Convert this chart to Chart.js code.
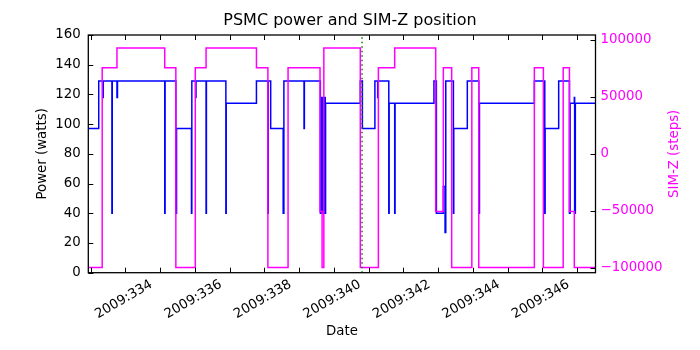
<!DOCTYPE html>
<html>
<head>
<meta charset="utf-8">
<script src="https://cdn.jsdelivr.net/npm/chart.js@4"></script>
<style>
  html, body { margin: 0; padding: 0; background: #fff; }
  #wrap { width: 700px; height: 350px; }
</style>
</head>
<body>
<div id="wrap"><canvas id="psmcChart" width="700" height="350"></canvas></div>
<script>
// 2009 day-of-year at each change; the value holds until the next change
const powerDays = [332.90, 333.23, 333.35, 333.36, 333.61, 333.62, 333.755, 333.77, 335.13, 335.14,
  335.45, 335.47, 335.90, 335.91, 336.02, 336.03, 336.32, 336.33, 336.89, 336.90,
  337.77, 338.10, 338.11, 338.18, 338.54, 338.56, 339.14, 339.15, 339.61, 339.64,
  339.67, 339.72, 339.75, 339.76, 340.76, 340.82, 341.18, 341.26, 341.27, 341.58,
  341.59, 341.75, 341.76, 342.88, 342.95, 343.15, 343.20, 343.22, 343.44, 343.45,
  343.84, 344.17, 344.19, 345.77, 346.07, 346.08, 346.47, 346.78, 346.80, 346.92,
  346.93, 346.95, 347.60];
const powerWatts = [97, 129, 118, 129, 40, 129, 118, 129, 40, 129,
  40, 97, 40, 129, 118, 129, 40, 129, 40, 114,
  129, 40, 129, 97, 40, 129, 97, 129, 40, 118,
  40, 118, 40, 114, 129, 97, 129, 118, 129, 40,
  114, 40, 114, 129, 40, 58, 27, 129, 40, 97,
  129, 40, 114, 129, 40, 97, 129, 40, 114, 118,
  40, 114, 114];

const simzDays = [332.90, 333.33, 333.755, 335.13, 335.45, 336.01, 336.32, 337.77, 338.10, 338.68,
  339.60, 339.66, 339.71, 340.76, 341.28, 341.75, 342.93, 343.15, 343.39, 343.97,
  344.17, 345.77, 346.03, 346.60, 346.78, 346.92, 347.60];
const simzSteps = [-99600, 75600, 92900, 75600, -99600, 75600, 92900, 75600, -99600, 75600,
  -50500, -99600, 92900, -99600, 75600, 92900, -50500, 75600, -99600, 75600,
  -99600, 75600, -99600, 75600, -50500, -99600, -99600];

const markerDay = 340.81;

const dayTicks = [333, 334, 335, 336, 337, 338, 339, 340, 341, 342, 343, 344, 345, 346, 347];
const powerTicks = [0, 20, 40, 60, 80, 100, 120, 140, 160];
const simzTicks = [-100000, -50000, 0, 50000, 100000];

const toPoints = (xs, ys) => xs.map((x, i) => ({ x: x, y: ys[i] }));
const setTicks = list => scale => { scale.ticks = list.map(v => ({ value: v })); };

Chart.defaults.font.family = 'DejaVu Sans';
Chart.defaults.font.size = 13.33;
Chart.defaults.color = '#000';

// matplotlib look: frame, inward ticks and the right-hand label reading upwards
const axesFrame = {
  id: 'axesFrame',
  afterDraw(chart) {
    const { ctx, chartArea: a, scales } = chart;
    ctx.save();
    ctx.strokeStyle = '#000';
    ctx.lineWidth = 1;
    ctx.beginPath();
    scales.x.ticks.forEach(t => {
      const px = Math.round(scales.x.getPixelForValue(t.value)) + 0.5;
      ctx.moveTo(px, a.bottom); ctx.lineTo(px, a.bottom - 5);
      ctx.moveTo(px, a.top); ctx.lineTo(px, a.top + 5);
    });
    scales.y.ticks.forEach(t => {
      const py = Math.round(scales.y.getPixelForValue(t.value)) + 0.5;
      ctx.moveTo(a.left, py); ctx.lineTo(a.left + 5, py);
    });
    scales.y2.ticks.forEach(t => {
      const py = Math.round(scales.y2.getPixelForValue(t.value)) + 0.5;
      ctx.moveTo(a.right, py); ctx.lineTo(a.right - 5, py);
    });
    ctx.stroke();
    ctx.lineWidth = 1.3;
    ctx.strokeRect(a.left, a.top, a.right - a.left, a.bottom - a.top);

    ctx.translate(675, (a.top + a.bottom) / 2);
    ctx.rotate(-Math.PI / 2);
    ctx.fillStyle = '#ff00ff';
    ctx.font = '13.33px "DejaVu Sans"';
    ctx.textAlign = 'center';
    ctx.textBaseline = 'middle';
    ctx.fillText('SIM-Z (steps)', 0, 0);
    ctx.restore();
  }
};

new Chart(document.getElementById('psmcChart'), {
  type: 'line',
  data: {
    datasets: [
      {
        label: 'marker',
        data: [{ x: markerDay, y: 0 }, { x: markerDay, y: 160 }],
        yAxisID: 'y',
        borderColor: '#008000',
        borderWidth: 1.5,
        borderDash: [1.5, 3],
        pointRadius: 0
      },
      {
        label: 'SIM-Z',
        data: toPoints(simzDays, simzSteps),
        yAxisID: 'y2',
        stepped: 'before',
        borderColor: '#ff00ff',
        borderWidth: 1.5,
        pointRadius: 0
      },
      {
        label: 'Power',
        data: toPoints(powerDays, powerWatts),
        yAxisID: 'y',
        stepped: 'before',
        borderColor: '#0000ff',
        borderWidth: 1.5,
        pointRadius: 0
      }
    ]
  },
  options: {
    responsive: false,
    animation: false,
    devicePixelRatio: 1,
    layout: { padding: 0 },
    plugins: {
      legend: { display: false },
      tooltip: { enabled: false },
      title: {
        display: true,
        text: 'PSMC power and SIM-Z position',
        color: '#000',
        font: { size: 16, weight: 'normal' },
        padding: { top: 11, bottom: 4.8 }
      }
    },
    scales: {
      x: {
        type: 'linear',
        min: 332.93,
        max: 347.53,
        afterBuildTicks: setTicks(dayTicks),
        afterFit: s => { s.height = 77.3; },
        grid: { display: false, drawTicks: false },
        border: { display: false },
        ticks: {
          autoSkip: false,
          minRotation: 30,
          maxRotation: 30,
          padding: 4,
          labelOffset: 26,
          callback: v => (v % 2 === 0 ? '2009:' + v : '')
        },
        title: { display: true, text: 'Date', padding: { top: 0, bottom: 10 } }
      },
      y: {
        position: 'left',
        min: 0,
        max: 160,
        afterBuildTicks: setTicks(powerTicks),
        afterFit: s => { s.width = 88.3; },
        grid: { display: false, drawTicks: false },
        border: { display: false },
        ticks: { padding: 7.5, callback: v => String(v) },
        title: { display: true, text: 'Power (watts)', padding: { top: 34.5, bottom: 0 } }
      },
      y2: {
        position: 'right',
        min: -104200,
        max: 104400,
        afterBuildTicks: setTicks(simzTicks),
        afterFit: s => { s.width = 104.5; },
        grid: { display: false, drawTicks: false },
        border: { display: false },
        ticks: {
          padding: 5,
          color: '#ff00ff',
          callback: v => (v < 0 ? '\u2212' + Math.abs(v) : String(v))
        }
      }
    }
  },
  plugins: [axesFrame]
});
</script>
</body>
</html>
